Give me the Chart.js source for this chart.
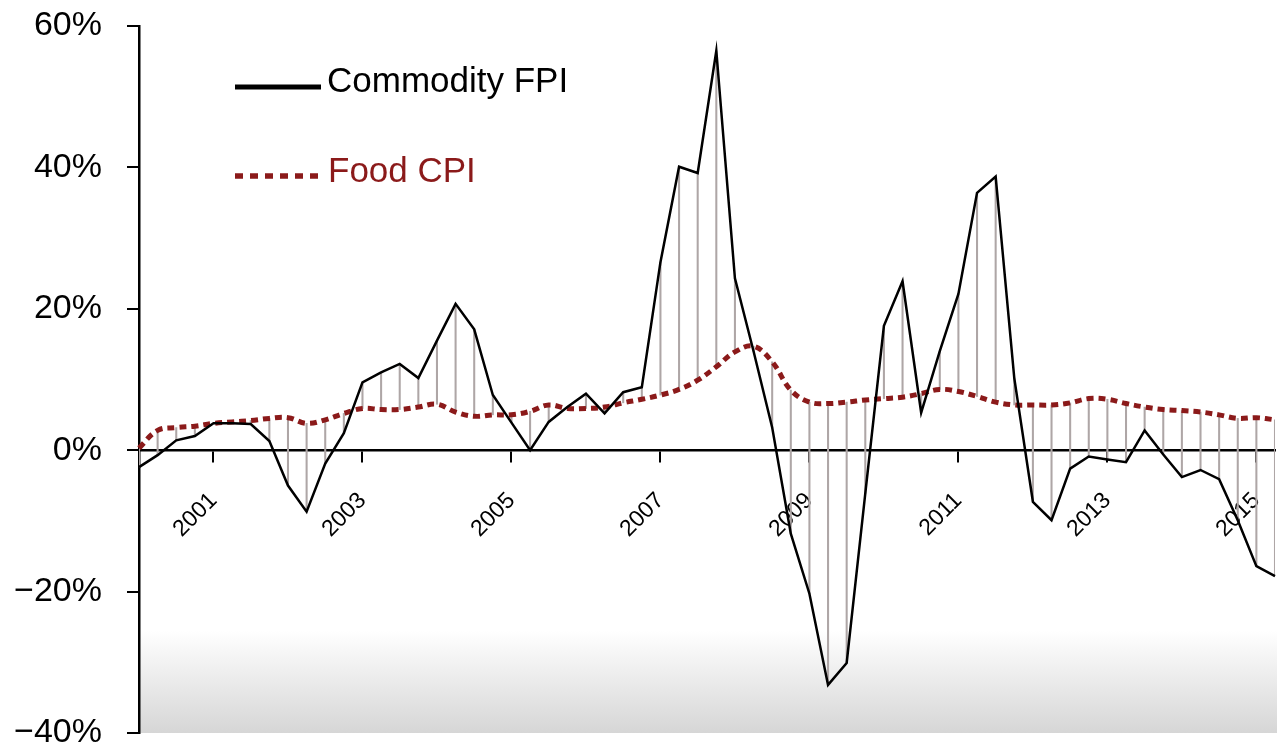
<!DOCTYPE html>
<html>
<head>
<meta charset="utf-8">
<script src="https://cdn.jsdelivr.net/npm/chart.js@4.4.1/dist/chart.umd.min.js"></script>
<style>
  html, body { margin: 0; padding: 0; background: #fff; }
  #c { display: block; }
</style>
</head>
<body>
<canvas id="c" width="1277" height="749"></canvas>
<script>
// Quarterly categories, 2000-Q1 .. 2015-Q2
const categories = [
  '2000-Q1','2000-Q2','2000-Q3','2000-Q4','2001-Q1','2001-Q2','2001-Q3','2001-Q4',
  '2002-Q1','2002-Q2','2002-Q3','2002-Q4','2003-Q1','2003-Q2','2003-Q3','2003-Q4',
  '2004-Q1','2004-Q2','2004-Q3','2004-Q4','2005-Q1','2005-Q2','2005-Q3','2005-Q4',
  '2006-Q1','2006-Q2','2006-Q3','2006-Q4','2007-Q1','2007-Q2','2007-Q3','2007-Q4',
  '2008-Q1','2008-Q2','2008-Q3','2008-Q4','2009-Q1','2009-Q2','2009-Q3','2009-Q4',
  '2010-Q1','2010-Q2','2010-Q3','2010-Q4','2011-Q1','2011-Q2','2011-Q3','2011-Q4',
  '2012-Q1','2012-Q2','2012-Q3','2012-Q4','2013-Q1','2013-Q2','2013-Q3','2013-Q4',
  '2014-Q1','2014-Q2','2014-Q3','2014-Q4','2015-Q1','2015-Q2'
];

// Year tick labels shown on the axis (placed at Q1 of these years)
const tickYears = ['2001','2003','2005','2007','2009','2011','2013','2015'];

// Commodity FPI, % change year on year
const commodityFPI = [
  -2.4, -0.7, 1.4, 2.0, 3.8, 3.8, 3.7, 1.3,
  -5.0, -8.7, -1.9, 2.4, 9.6, 11.0, 12.2, 10.2,
  15.5, 20.7, 17.1, 7.8, 3.9, 0.0, 4.0, 6.1,
  8.0, 5.2, 8.2, 8.9, 26.6, 40.1, 39.2, 56.5,
  24.3, 14.0, 3.2, -11.8, -20.3, -33.2, -30.1, -6.1,
  17.6, 23.9, 5.3, 14.0, 22.1, 36.4, 38.7, 10.2,
  -7.3, -9.9, -2.6, -0.9, -1.3, -1.7, 2.8, -0.6,
  -3.8, -2.8, -4.1, -9.9, -16.4, -17.8
];

// Food CPI, % change year on year
const foodCPI = [
  0.3, 2.8, 3.2, 3.4, 3.8, 4.0, 4.2, 4.5,
  4.6, 3.8, 4.3, 5.2, 5.9, 5.75, 5.75, 6.1,
  6.5, 5.4, 4.8, 5.0, 5.0, 5.5, 6.4, 5.9,
  5.9, 6.1, 6.7, 7.2, 7.8, 8.6, 9.9, 11.8,
  13.9, 14.7, 12.5, 8.5, 6.8, 6.6, 6.8, 7.1,
  7.3, 7.5, 8.0, 8.6, 8.3, 7.6, 6.8, 6.4,
  6.4, 6.4, 6.7, 7.3, 7.2, 6.6, 6.1, 5.75,
  5.6, 5.4, 5.0, 4.5, 4.6, 4.3
];

const seriesNames = ['Commodity FPI', 'Food CPI'];

// High-low connector lines between the two series
const highLow = categories.map((c, i) => [
  Math.min(commodityFPI[i], foodCPI[i]),
  Math.max(commodityFPI[i], foodCPI[i])
]);

function tickLabelFor(index) {
  const cat = categories[index];
  const [yr, q] = cat.split('-');
  return (q === 'Q1' && tickYears.includes(yr)) ? yr : '';
}

const FONT = "'Liberation Sans', Arial, Helvetica, sans-serif";
const RED = '#8b1a1a';

const bgPlugin = {
  id: 'bgGradient',
  beforeDraw(chart) {
    const { ctx, chartArea, scales } = chart;
    const yTop = scales.y.getPixelForValue(-25.5);
    const yBot = chartArea.bottom;
    const g = ctx.createLinearGradient(0, yTop, 0, yBot);
    g.addColorStop(0, 'rgba(255,255,255,1)');
    g.addColorStop(1, 'rgb(214,214,214)');
    ctx.save();
    ctx.fillStyle = g;
    ctx.fillRect(chartArea.left, yTop, chart.width - chartArea.left, yBot - yTop);
    ctx.restore();
  }
};

const legendPlugin = {
  id: 'insideLegend',
  afterDatasetsDraw(chart) {
    const { ctx } = chart;
    ctx.save();
    // Commodity FPI
    ctx.strokeStyle = '#000';
    ctx.lineWidth = 5;
    ctx.setLineDash([]);
    ctx.beginPath();
    ctx.moveTo(235, 87);
    ctx.lineTo(321, 87);
    ctx.stroke();
    ctx.font = '35px ' + FONT;
    ctx.textBaseline = 'middle';
    ctx.textAlign = 'left';
    ctx.fillStyle = '#000';
    ctx.fillText(seriesNames[0], 327, 82);
    // Food CPI
    ctx.strokeStyle = RED;
    ctx.lineWidth = 5.5;
    ctx.setLineDash([8, 7]);
    ctx.beginPath();
    ctx.moveTo(235, 176);
    ctx.lineTo(320, 176);
    ctx.stroke();
    ctx.setLineDash([]);
    ctx.fillStyle = RED;
    ctx.fillText(seriesNames[1], 328, 172);
    ctx.restore();
  }
};

new Chart(document.getElementById('c'), {
  type: 'line',
  data: {
    labels: categories,
    datasets: [
      {
        type: 'line',
        label: seriesNames[0],
        data: commodityFPI,
        borderColor: '#000',
        borderWidth: 2.5,
        pointRadius: 0,
        tension: 0,
        fill: false,
        order: 1
      },
      {
        type: 'line',
        label: seriesNames[1],
        data: foodCPI,
        borderColor: RED,
        borderWidth: 5,
        borderDash: [7, 5],
        borderCapStyle: 'butt',
        pointRadius: 0,
        tension: 0.4,
        fill: false,
        order: 2
      },
      {
        type: 'bar',
        label: 'high-low',
        data: highLow,
        backgroundColor: '#aea6a6',
        borderWidth: 0,
        barThickness: 1.4,
        grouped: false,
        order: 3
      }
    ]
  },
  options: {
    responsive: false,
    animation: false,
    devicePixelRatio: 1,
    layout: { padding: { top: 26, bottom: 16, right: 2, left: 0 } },
    plugins: {
      legend: { display: false },
      tooltip: { enabled: false },
      title: { display: false }
    },
    scales: {
      x: {
        type: 'category',
        position: { y: 0 },
        offset: false,
        grid: {
          display: true,
          offset: false,
          drawOnChartArea: false,
          drawTicks: true,
          tickLength: 11,
          lineWidth: 2,
          color: (ctx) => (ctx.index !== undefined && tickLabelFor(ctx.index) !== '') ? '#000' : 'rgba(0,0,0,0)'
        },
        border: { display: true, color: '#000', width: 2.5 },
        ticks: {
          autoSkip: false,
          maxRotation: 45,
          minRotation: 45,
          padding: 26,
          color: '#000',
          font: { family: FONT, size: 23 },
          callback: (value, index) => tickLabelFor(index)
        },
        afterFit(scale) { scale.paddingLeft = 0; scale.paddingRight = 0; }
      },
      y: {
        type: 'linear',
        position: 'left',
        min: -40,
        max: 60,
        grid: {
          display: true,
          drawOnChartArea: false,
          drawTicks: true,
          tickLength: 12,
          lineWidth: 2,
          color: '#000'
        },
        border: { display: true, color: '#000', width: 2.5 },
        ticks: {
          stepSize: 20,
          padding: 25,
          color: '#000',
          font: { family: FONT, size: 34 },
          callback: (v) => (v < 0 ? '\u2212' + Math.abs(v) : String(v)) + '%'
        },
        afterFit(scale) { scale.width = 139; scale.paddingTop = 0; scale.paddingBottom = 0; }
      }
    }
  },
  plugins: [bgPlugin, legendPlugin]
});
</script>
</body>
</html>
